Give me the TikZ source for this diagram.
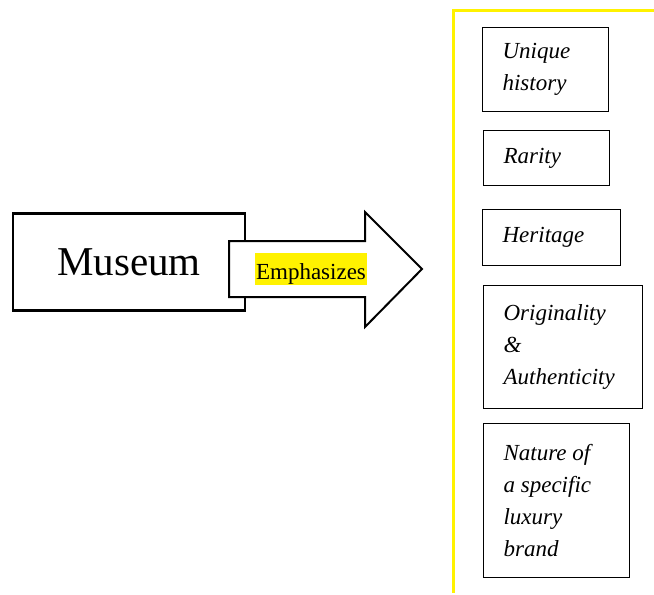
\documentclass[tikz,border=0pt]{standalone}
\usepackage{fontspec}
\setmainfont{Liberation Serif}
\usepackage{xcolor}
\usepackage{tikz}
\usetikzlibrary{positioning,calc}

\begin{document}
\begin{tikzpicture}[
  x=1pt, y=-1pt,
  mainbox/.style={draw, line width=2.4pt, minimum width=232pt, minimum height=97pt,
                  font=\fontsize{41}{48}\selectfont},
  itembox/.style={draw, line width=1.2pt, anchor=north west, align=flush left,
                  inner xsep=20pt, inner ysep=4pt,
                  font=\itshape\fontsize{23}{32}\selectfont},
  blockarrow/.style={draw, fill=white, line width=2pt, line join=miter},
  mark label/.style={fill=yellow, inner xsep=1pt, inner ysep=0pt,
                     text height=26pt, text depth=6pt, anchor=base,
                     font=\fontsize{23}{28}\selectfont}
]
  \useasboundingbox (0,0) rectangle (654,595);

  % left side
  \node[mainbox] (museum) at (129,262) {Museum};
  \draw[blockarrow] (229,241) -- (365,241) -- (365,212) -- (422,269)
    -- (365,327) -- (365,297) -- (229,297) -- cycle;
  \node[mark label] (emph) at (311,279) {Emphasizes};

  % bracket
  \draw[yellow, line width=3.5pt] (654,10.5) -- (453.5,10.5) -- (453.5,593);

  % right side
  \node[itembox, text width=86pt, minimum height=84pt] (hist) at (482,27) {Unique\\history};
  \node[itembox, text width=86pt, minimum height=55pt] (rar) at (483,130) {Rarity};
  \node[itembox, text width=98pt, minimum height=56pt] (her) at (482,209) {Heritage};
  \node[itembox, text width=119pt, minimum height=123pt] (orig) at (483,285) {Originality\\\&\\Authenticity};
  \node[itembox, text width=106pt, minimum height=154pt] (nat) at (483,423) {Nature of\\a specific\\luxury\\brand};
\end{tikzpicture}
\end{document}
